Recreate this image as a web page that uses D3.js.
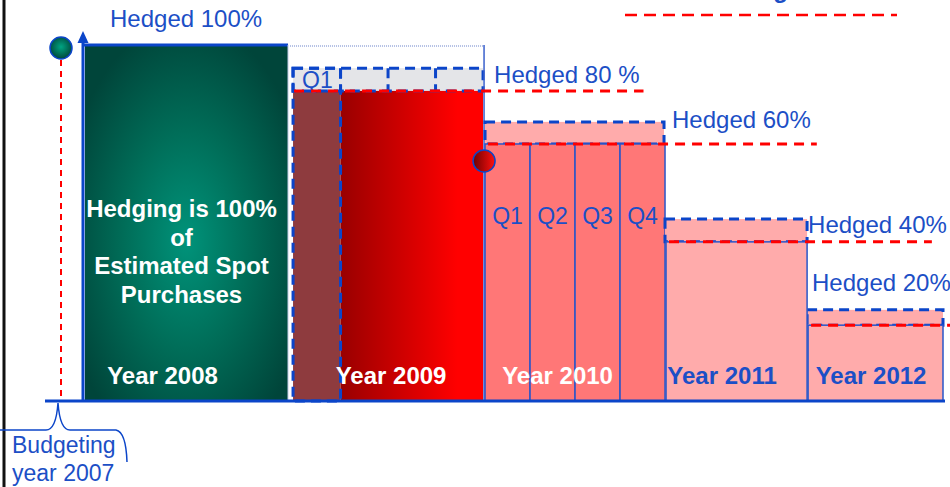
<!DOCTYPE html>
<html>
<head>
<meta charset="utf-8">
<script src="https://cdn.jsdelivr.net/npm/d3@7"></script>
<style>
body { margin: 0; background: #fff; }
svg { display: block; font-family: "Liberation Sans", Arial, sans-serif; }
</style>
</head>
<body>
<div id="chart"></div>
<script>
// data
var years = ["Year 2008", "Year 2009", "Year 2010", "Year 2011", "Year 2012"];
var hedgeLabels = ["Hedged 100%", "Hedged 80 %", "Hedged 60%", "Hedged 40%", "Hedged 20%"];
var targetLevel = [100, 93.5, 78.4, 51.1, 25.6];   // top of dashed hedge box (% of axis)
var coveredLevel = [100, 87.1, 72.2, 44.7, 21.3];  // top of bar / red hedge line
var quarters = ["Q1", "Q2", "Q3", "Q4"];
var noteLines = ["Hedging is 100%", "of", "Estimated Spot", "Purchases"];
var budgetLines = ["Budgeting", "year 2007"];

// layout
var width = 950, height = 487;
var blue = "#1c4fc6", lineBlue = "#0b45c9", red = "#ff0000";
var colWeight = [1.133, 1.072, 1, 0.785, 0.751];
var labelOffset = [[27, -18], [10, -8], [7, -16], [1, -9], [-131, -34]];
var lineExtra = [0, 4, 6, -15, 6];
var yearDx = [-25, 4, -17, -14, -4];
var baseY = 401, axisX = 83;

var svg = d3.select("#chart").append("svg")
    .attr("width", width)
    .attr("height", height);

var cum = [0];
colWeight.forEach(function (w, i) { cum.push(cum[i] + w); });

var x = d3.scaleLinear().domain([0, cum[cum.length - 1]]).range([85, 943]);
var y = d3.scaleLinear().domain([0, 100]).range([baseY, 45]);

var cols = years.map(function (name, i) {
  return { name: name, i: i, x0: x(cum[i]), x1: x(cum[i + 1]),
           target: targetLevel[i], covered: coveredLevel[i], label: hedgeLabels[i] };
});

// gradients
var defs = svg.append("defs");
var g08 = defs.append("radialGradient").attr("id", "g2008")
    .attr("cx", "50%").attr("cy", "55%").attr("r", "62%");
g08.append("stop").attr("offset", "0").attr("stop-color", "#00937a");
g08.append("stop").attr("offset", "0.5").attr("stop-color", "#006d58");
g08.append("stop").attr("offset", "1").attr("stop-color", "#00453a");

var g09 = defs.append("linearGradient").attr("id", "g2009");
g09.append("stop").attr("offset", "0").attr("stop-color", "#990000");
g09.append("stop").attr("offset", "0.82").attr("stop-color", "#ff0000");
g09.append("stop").attr("offset", "1").attr("stop-color", "#ff0000");

var gDot = defs.append("radialGradient").attr("id", "gDot")
    .attr("cx", "50%").attr("cy", "45%").attr("r", "55%");
gDot.append("stop").attr("offset", "0").attr("stop-color", "#00a482");
gDot.append("stop").attr("offset", "1").attr("stop-color", "#00473a");

var rDot = defs.append("linearGradient").attr("id", "rDot");
rDot.append("stop").attr("offset", "0").attr("stop-color", "#6e0000");
rDot.append("stop").attr("offset", "1").attr("stop-color", "#ff1010");

// left frame line
svg.append("line")
    .attr("x1", 4).attr("x2", 4).attr("y1", 0).attr("y2", height)
    .attr("stroke", "#111").attr("stroke-width", 3);

// cut legend at top right
svg.append("line")
    .attr("x1", 625).attr("x2", 897).attr("y1", 15).attr("y2", 15)
    .attr("stroke", red).attr("stroke-width", 2.5).attr("stroke-dasharray", "12,7");
svg.append("text")
    .attr("x", 788).attr("y", -2)
    .attr("text-anchor", "end")
    .attr("font-size", 24).attr("font-weight", "bold")
    .attr("fill", blue)
    .text("Rolling");

// 2008 column
var c0 = cols[0];
svg.append("rect")
    .attr("x", c0.x0).attr("y", y(c0.target))
    .attr("width", c0.x1 - c0.x0 - 2).attr("height", baseY - y(c0.target))
    .attr("fill", "url(#g2008)");
svg.append("line")
    .attr("x1", axisX).attr("x2", c0.x1 - 2)
    .attr("y1", y(c0.target)).attr("y2", y(c0.target))
    .attr("stroke", lineBlue).attr("stroke-width", 3);
svg.append("line")
    .attr("x1", c0.x1 - 2).attr("x2", c0.x1 - 2)
    .attr("y1", y(c0.target)).attr("y2", baseY)
    .attr("stroke", "#ccd5ee").attr("stroke-width", 1);

var note = svg.append("text")
    .attr("text-anchor", "middle")
    .attr("font-size", 24).attr("font-weight", "bold")
    .attr("fill", "#fff");
note.selectAll("tspan")
    .data(noteLines)
    .enter()
    .append("tspan")
    .attr("x", (c0.x0 + c0.x1) / 2 - 6)
    .attr("y", function (d, i) { return 217 + i * 28.5; })
    .text(function (d) { return d; });

// 2009 column
var c1 = cols[1];
var q1 = d3.scaleBand().domain(quarters).range([c1.x0 + 3, c1.x1 - 1]);
svg.append("line")
    .attr("x1", c1.x0).attr("x2", c1.x1)
    .attr("y1", y(100) + 1).attr("y2", y(100) + 1)
    .attr("stroke", "#b4c0e4").attr("stroke-width", 2).attr("stroke-dasharray", "1,1");
svg.append("rect")
    .attr("x", q1("Q1")).attr("y", y(c1.target))
    .attr("width", c1.x1 - 1 - q1("Q1")).attr("height", y(c1.covered) - y(c1.target))
    .attr("fill", "#e4e5e8");
svg.append("rect")
    .attr("x", q1("Q1")).attr("y", y(c1.covered))
    .attr("width", q1.bandwidth()).attr("height", baseY - y(c1.covered))
    .attr("fill", "#8e3b3e");
svg.append("rect")
    .attr("x", q1("Q2")).attr("y", y(c1.covered))
    .attr("width", c1.x1 - 1 - q1("Q2")).attr("height", baseY - y(c1.covered))
    .attr("fill", "url(#g2009)");
svg.append("rect")
    .attr("x", q1("Q1")).attr("y", y(c1.target))
    .attr("width", c1.x1 - 1 - q1("Q1")).attr("height", y(c1.covered) - y(c1.target))
    .attr("fill", "none")
    .attr("stroke", lineBlue).attr("stroke-width", 3).attr("stroke-dasharray", "10,6");
svg.selectAll(".q09div")
    .data(quarters.slice(1))
    .enter()
    .append("line")
    .attr("class", "q09div")
    .attr("x1", function (d) { return q1(d); })
    .attr("x2", function (d) { return q1(d); })
    .attr("y1", y(c1.target)).attr("y2", y(c1.covered))
    .attr("stroke", lineBlue).attr("stroke-width", 3).attr("stroke-dasharray", "10,6");
svg.append("rect")
    .attr("x", q1("Q1")).attr("y", y(c1.target))
    .attr("width", q1.bandwidth()).attr("height", baseY - y(c1.target))
    .attr("fill", "none")
    .attr("stroke", lineBlue).attr("stroke-width", 3).attr("stroke-dasharray", "10,6");
svg.append("text")
    .attr("x", q1("Q1") + 9).attr("y", y(c1.covered) - 3)
    .attr("font-size", 23).attr("fill", blue)
    .text(quarters[0]);
svg.append("line")
    .attr("x1", c1.x1).attr("x2", c1.x1)
    .attr("y1", y(100)).attr("y2", baseY)
    .attr("stroke", "#3a60cc").attr("stroke-width", 1.5);

// 2010 column
var c2 = cols[2];
var q2 = d3.scaleBand().domain(quarters).range([c2.x0 + 1, c2.x1]);
svg.append("rect")
    .attr("x", c2.x0 + 1).attr("y", y(c2.target))
    .attr("width", c2.x1 - c2.x0 - 2).attr("height", y(c2.covered) - y(c2.target))
    .attr("fill", "#ffabab")
    .attr("stroke", lineBlue).attr("stroke-width", 3).attr("stroke-dasharray", "10,6");
svg.selectAll(".q10")
    .data(quarters)
    .enter()
    .append("rect")
    .attr("class", "q10")
    .attr("x", function (d) { return q2(d); })
    .attr("y", y(c2.covered))
    .attr("width", q2.bandwidth())
    .attr("height", baseY - y(c2.covered))
    .attr("fill", "#ff7777")
    .attr("stroke", "#2a55c8").attr("stroke-width", 1.5);
svg.selectAll(".q10lab")
    .data(quarters)
    .enter()
    .append("text")
    .attr("class", "q10lab")
    .attr("x", function (d) { return q2(d) + q2.bandwidth() / 2; })
    .attr("y", 224)
    .attr("text-anchor", "middle")
    .attr("font-size", 23).attr("fill", blue)
    .text(function (d) { return d; });

// 2011 and 2012 columns
var late = cols.slice(3);
svg.selectAll(".hbox")
    .data(late)
    .enter()
    .append("rect")
    .attr("class", "hbox")
    .attr("x", function (d) { return d.x0; })
    .attr("y", function (d) { return y(d.target); })
    .attr("width", function (d) { return d.x1 - d.x0; })
    .attr("height", function (d) { return y(d.covered) - y(d.target); })
    .attr("fill", "#ffabab")
    .attr("stroke", lineBlue).attr("stroke-width", 3).attr("stroke-dasharray", "10,6");
svg.selectAll(".lbar")
    .data(late)
    .enter()
    .append("rect")
    .attr("class", "lbar")
    .attr("x", function (d) { return d.x0 + 1; })
    .attr("y", function (d) { return y(d.covered); })
    .attr("width", function (d) { return d.x1 - d.x0 - 1; })
    .attr("height", function (d) { return baseY - y(d.covered); })
    .attr("fill", "#ffabab")
    .attr("stroke", "#2a55c8").attr("stroke-width", 1.5);

// hedge labels and red hedge lines
cols.forEach(function (d) {
  var off = labelOffset[d.i];
  var lx = d.i === 0 ? axisX + off[0] : d.x1 + off[0];
  var ly = d.i === 0 ? y(d.target) + off[1] : y(d.covered) + off[1];
  var t = svg.append("text")
      .attr("x", lx).attr("y", ly)
      .attr("font-size", 24).attr("fill", blue)
      .text(d.label);
  if (d.i > 0) {
    var end = Math.min(lx + t.node().getComputedTextLength() + lineExtra[d.i], width);
    svg.append("line")
        .attr("x1", d.x0 + 4).attr("x2", end)
        .attr("y1", y(d.covered)).attr("y2", y(d.covered))
        .attr("stroke", red).attr("stroke-width", 3).attr("stroke-dasharray", "10,7");
  }
});

// year labels
svg.selectAll(".year")
    .data(cols)
    .enter()
    .append("text")
    .attr("class", "year")
    .attr("x", function (d) { return (d.x0 + d.x1) / 2 + yearDx[d.i]; })
    .attr("y", 384)
    .attr("text-anchor", "middle")
    .attr("font-size", 24).attr("font-weight", "bold")
    .attr("fill", function (d) { return d.i < 3 ? "#fff" : blue; })
    .text(function (d) { return d.name; });

// axes
svg.append("line")
    .attr("x1", 45).attr("x2", 945).attr("y1", baseY).attr("y2", baseY)
    .attr("stroke", lineBlue).attr("stroke-width", 3);
svg.append("line")
    .attr("x1", axisX).attr("x2", axisX).attr("y1", baseY).attr("y2", 40)
    .attr("stroke", lineBlue).attr("stroke-width", 3);
svg.append("path")
    .attr("d", "M" + axisX + ",31L" + (axisX - 5.5) + ",43L" + (axisX + 5.5) + ",43Z")
    .attr("fill", lineBlue);

// budgeting marker
svg.append("line")
    .attr("x1", 61).attr("x2", 61).attr("y1", 60).attr("y2", baseY)
    .attr("stroke", red).attr("stroke-width", 2).attr("stroke-dasharray", "6,5");
svg.append("circle")
    .attr("cx", 61).attr("cy", 48).attr("r", 11)
    .attr("fill", "url(#gDot)")
    .attr("stroke", lineBlue).attr("stroke-width", 1.5);
svg.append("circle")
    .attr("cx", c2.x0).attr("cy", y(c2.covered) + 17).attr("r", 11)
    .attr("fill", "url(#rDot)")
    .attr("stroke", lineBlue).attr("stroke-width", 1.5);

svg.append("path")
    .attr("d", "M0,430L46,430Q56,430 58,403Q60,430 70,430L116,430Q126,432 127,462")
    .attr("fill", "none")
    .attr("stroke", lineBlue).attr("stroke-width", 1.5);

var budget = svg.append("text")
    .attr("font-size", 23).attr("fill", blue);
budget.selectAll("tspan")
    .data(budgetLines)
    .enter()
    .append("tspan")
    .attr("x", 12)
    .attr("y", function (d, i) { return 453 + i * 28; })
    .text(function (d) { return d; });
</script>
</body>
</html>
